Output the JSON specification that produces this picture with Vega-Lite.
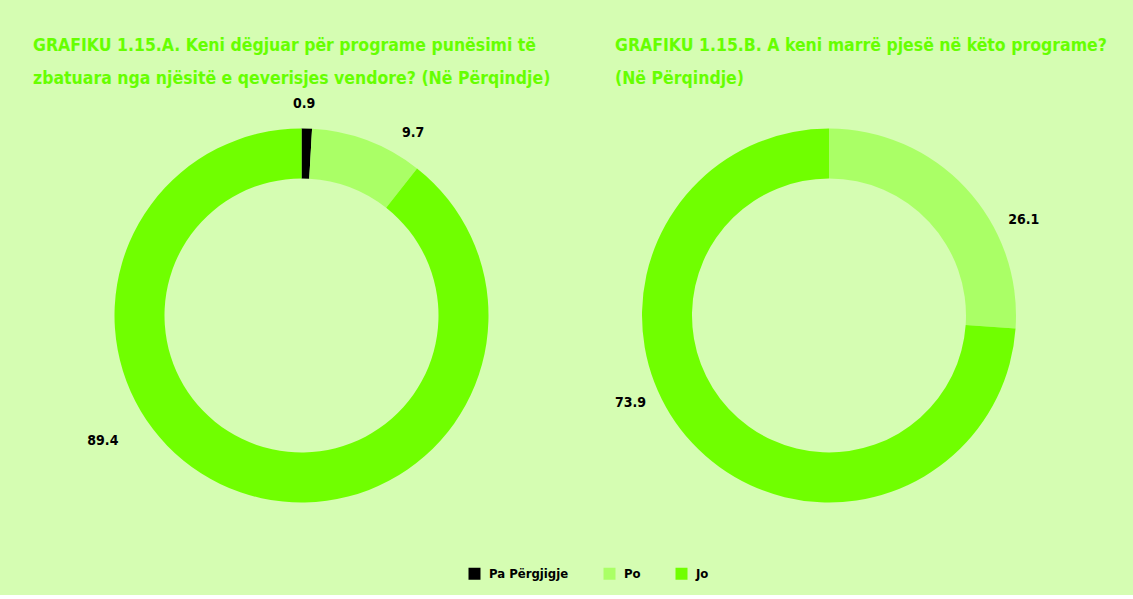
{
  "$schema": "https://vega.github.io/schema/vega-lite/v6.json",
  "background": "#d5fdb2",
  "padding": {"left": 33, "top": 36, "right": 90, "bottom": 14},
  "spacing": 45,
  "config": {
    "view": {"stroke": null},
    "font": "DejaVu Sans Condensed",
    "title": {"anchor": "start", "color": "#66ff00", "fontSize": 17.5, "font": "DejaVu Sans Condensed, Lato", "fontWeight": "bold", "lineHeight": 33, "offset": 6, "limit": 1000}
  },
  "datasets": {
    "A": [
      {"category": "Pa Përgjigje", "value": 0.9, "order": 1},
      {"category": "Po", "value": 9.7, "order": 2},
      {"category": "Jo", "value": 89.4, "order": 3}
    ],
    "B": [
      {"category": "Po", "value": 26.1, "order": 1},
      {"category": "Jo", "value": 73.9, "order": 2}
    ]
  },
  "hconcat": [
    {
      "width": 537,
      "height": 445,
      "title": {"text": ["GRAFIKU 1.15.A. Keni dëgjuar për programe punësimi të", "zbatuara nga njësitë e qeverisjes vendore? (Në Përqindje)"]},
      "data": {"name": "A"},
      "transform": [
        {"window": [{"op": "sum", "field": "value", "as": "end"}], "sort": [{"field": "order"}], "frame": [null, 0]},
        {"calculate": "datum.end - datum.value", "as": "start"},
        {"calculate": "datum.end - datum.value / 2", "as": "mid"}
      ],
      "layer": [
        {
          "mark": {"type": "arc", "innerRadius": 137, "outerRadius": 187},
          "encoding": {
            "theta": {"field": "start", "type": "quantitative", "stack": null, "scale": {"domain": [0, 100]}},
            "theta2": {"field": "end"},
            "color": {
              "field": "category", "type": "nominal",
              "scale": {"domain": ["Pa Përgjigje", "Po", "Jo"], "range": ["#000000", "#aaff66", "#70ff00"]},
              "legend": {"orient": "none", "legendX": 435, "legendY": 474, "direction": "horizontal", "title": null, "symbolType": "square", "symbolSize": 144, "symbolStrokeWidth": 0, "labelFontSize": 13, "labelFontWeight": "bold", "labelFont": "DejaVu Sans Condensed, Lato", "labelColor": "#000000", "columnPadding": 34, "labelOffset": 8}
            }
          }
        },
        {
          "transform": [{"filter": "datum.category == 'Pa Përgjigje'"}],
          "mark": {"type": "text", "radius": 212, "thetaOffset": -0.016, "fontSize": 14, "fontWeight": "bold", "color": "#000000", "font": "DejaVu Sans Condensed, Lato"},
          "encoding": {"theta": {"field": "mid", "type": "quantitative", "stack": null, "scale": {"domain": [0, 100]}}, "text": {"field": "value", "type": "quantitative", "format": ".1f"}}
        },
        {
          "transform": [{"filter": "datum.category == 'Po'"}],
          "mark": {"type": "text", "radius": 214, "thetaOffset": 0.187, "fontSize": 14, "fontWeight": "bold", "color": "#000000", "font": "DejaVu Sans Condensed, Lato"},
          "encoding": {"theta": {"field": "mid", "type": "quantitative", "stack": null, "scale": {"domain": [0, 100]}}, "text": {"field": "value", "type": "quantitative", "format": ".1f"}}
        },
        {
          "transform": [{"filter": "datum.category == 'Jo'"}],
          "mark": {"type": "text", "radius": 235, "thetaOffset": 0.674, "fontSize": 14, "fontWeight": "bold", "color": "#000000", "font": "DejaVu Sans Condensed, Lato"},
          "encoding": {"theta": {"field": "mid", "type": "quantitative", "stack": null, "scale": {"domain": [0, 100]}}, "text": {"field": "value", "type": "quantitative", "format": ".1f"}}
        }
      ]
    },
    {
      "width": 428,
      "height": 445,
      "title": {"text": ["GRAFIKU 1.15.B. A keni marrë pjesë në këto programe?", "(Në Përqindje)"]},
      "data": {"name": "B"},
      "transform": [
        {"window": [{"op": "sum", "field": "value", "as": "end"}], "sort": [{"field": "order"}], "frame": [null, 0]},
        {"calculate": "datum.end - datum.value", "as": "start"},
        {"calculate": "datum.end - datum.value / 2", "as": "mid"}
      ],
      "layer": [
        {
          "mark": {"type": "arc", "innerRadius": 137, "outerRadius": 187},
          "encoding": {
            "theta": {"field": "start", "type": "quantitative", "stack": null, "scale": {"domain": [0, 100]}},
            "theta2": {"field": "end"},
            "color": {"field": "category", "type": "nominal", "scale": {"domain": ["Pa Përgjigje", "Po", "Jo"], "range": ["#000000", "#aaff66", "#70ff00"]}}
          }
        },
        {
          "transform": [{"filter": "datum.category == 'Po'"}],
          "mark": {"type": "text", "radius": 217, "thetaOffset": 0.294, "fontSize": 14, "fontWeight": "bold", "color": "#000000", "font": "DejaVu Sans Condensed, Lato"},
          "encoding": {"theta": {"field": "mid", "type": "quantitative", "stack": null, "scale": {"domain": [0, 100]}}, "text": {"field": "value", "type": "quantitative", "format": ".1f"}}
        },
        {
          "transform": [{"filter": "datum.category == 'Jo'"}],
          "mark": {"type": "text", "radius": 217, "thetaOffset": 0.334, "fontSize": 14, "fontWeight": "bold", "color": "#000000", "font": "DejaVu Sans Condensed, Lato"},
          "encoding": {"theta": {"field": "mid", "type": "quantitative", "stack": null, "scale": {"domain": [0, 100]}}, "text": {"field": "value", "type": "quantitative", "format": ".1f"}}
        }
      ]
    }
  ]
}
